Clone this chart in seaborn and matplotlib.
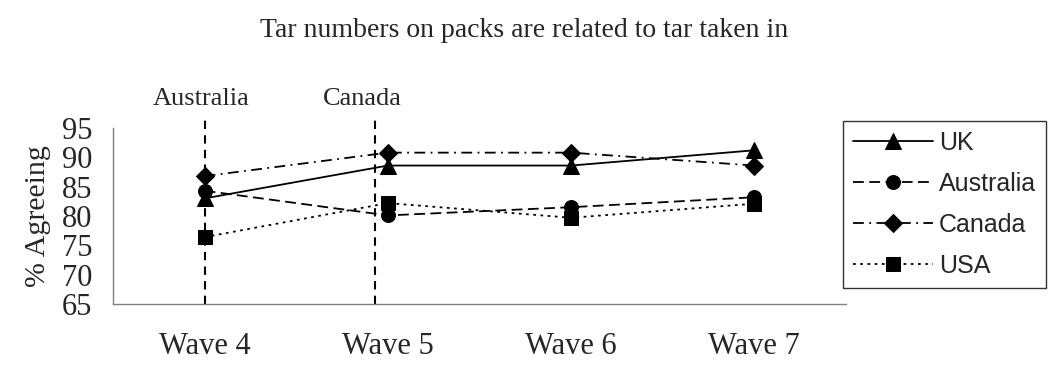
import matplotlib
matplotlib.use("Agg")
import matplotlib.pyplot as plt
import pandas as pd
import seaborn as sns

waves = ["Wave 4", "Wave 5", "Wave 6", "Wave 7"]
countries = ["UK", "Australia", "Canada", "USA"]
uk = [83.0, 88.6, 88.6, 91.2]
australia = [84.3, 80.1, 81.5, 83.2]
canada = [86.8, 90.8, 90.8, 88.6]
usa = [76.4, 82.2, 79.7, 82.1]
y_ticks = [65, 70, 75, 80, 85, 90, 95]

# policy change markers: (label, line position, label position) on the wave axis
events = [("Australia", 0.0, -0.02), ("Canada", 0.93, 0.86)]

rows = []
for name, vals in zip(countries, [uk, australia, canada, usa]):
    for i, v in enumerate(vals):
        rows.append({"wave": i, "country": name, "pct": v})
df = pd.DataFrame(rows)

sns.set_style("white")
plt.rcParams["font.family"] = ["Liberation Serif", "DejaVu Serif"]

fig = plt.figure(figsize=(10.49, 3.70), dpi=100)
ax = fig.add_axes([113 / 1049, 66 / 370, 733 / 1049, 176 / 370])

markers = {"UK": "^", "Australia": "o", "Canada": "D", "USA": "s"}
dashes = {"UK": "", "Australia": (6, 3), "Canada": (6, 3, 1, 3), "USA": (1.5, 2.5)}
sizes = {"UK": 12, "Australia": 10, "Canada": 9, "USA": 10}

for name in countries:
    sns.lineplot(data=df[df.country == name], x="wave", y="pct", ax=ax,
                 color="black", linewidth=1.3, marker=markers[name],
                 markersize=sizes[name], markeredgecolor="black",
                 dashes=False, legend=False, label=name)
    if dashes[name]:
        ax.lines[-1].set_dashes(dashes[name])

for label, pos, text_pos in events:
    ax.plot([pos, pos], [65, 96.7], color="black", linestyle=(0, (4, 3)),
            linewidth=1.5, clip_on=False)
    ax.text(text_pos, 99.9, label, ha="center", va="center", fontsize=19)

ax.set_xlim(-0.5, 3.5)
ax.set_ylim(65, 95)
ax.set_yticks(y_ticks)
ax.set_yticklabels([str(t) for t in y_ticks], fontsize=22)
ax.set_xticks([-0.5, 0.5, 1.5, 2.5, 3.5])
ax.set_xticklabels([])
ax.set_xticks(range(4), minor=True)
ax.set_xticklabels(waves, minor=True, fontsize=22)
ax.tick_params(axis="x", which="minor", length=0, pad=20)
ax.tick_params(axis="x", which="major", length=9, width=1, color="#808080",
               direction="out")
ax.tick_params(axis="y", length=9, width=1, color="#808080", direction="out",
               pad=6)
ax.set_xlabel("")
ax.set_ylabel("% Agreeing", fontsize=21.5, labelpad=8)

for side in ["top", "right"]:
    ax.spines[side].set_visible(False)
for side in ["left", "bottom"]:
    ax.spines[side].set_color("#808080")
    ax.spines[side].set_linewidth(1)

fig.text(0.5, 0.918, "Tar numbers on packs are related to tar taken in",
         ha="center", va="center", fontsize=20)

handles = ax.lines[:4]
leg = fig.legend(handles, countries, loc="upper left",
                 bbox_to_anchor=(843 / 1049, 1 - 121 / 370),
                 prop={"family": "Liberation Sans", "size": 18},
                 frameon=True, fancybox=False, edgecolor="black",
                 handlelength=3.2, handletextpad=0.25, labelspacing=0.68,
                 borderpad=0.4, borderaxespad=0)
leg.get_frame().set_linewidth(1)

fig.savefig("out.png", dpi=100)
